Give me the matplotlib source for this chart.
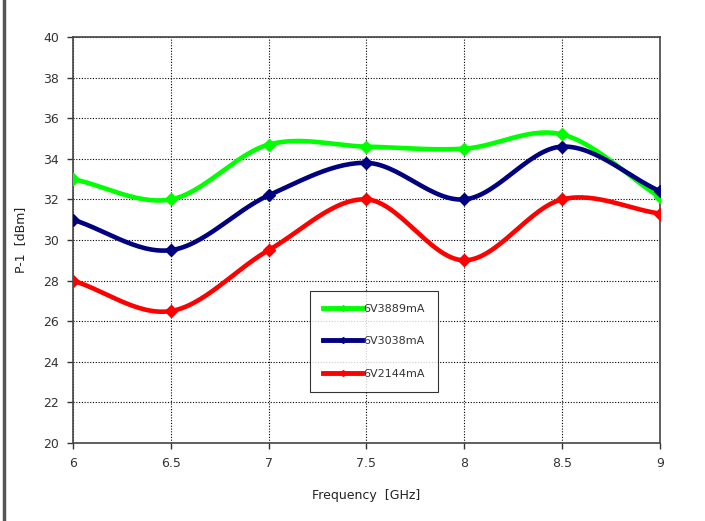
"""P-1 vs frequency chart, Excel-style smoothed lines."""
import matplotlib
matplotlib.use("Agg")
import matplotlib.pyplot as plt
from matplotlib.lines import Line2D
import numpy as np

freq_ghz = [6.0, 6.5, 7.0, 7.5, 8.0, 8.5, 9.0]
p1_3889 = [33.0, 32.0, 34.7, 34.6, 34.5, 35.2, 32.1]
p1_3038 = [31.0, 29.5, 32.2, 33.8, 32.0, 34.6, 32.4]
p1_2144 = [28.0, 26.5, 29.5, 32.0, 29.0, 32.0, 31.3]
series_labels = ["6V3889mA", "6V3038mA", "6V2144mA"]
series_colors = ["#00FF00", "#000080", "#FF0000"]


def smooth(x, y, n=30):
    # Catmull-Rom curve through the points, like Excel's smoothed line
    x = np.asarray(x, float)
    y = np.asarray(y, float)
    px = np.concatenate([[2 * x[0] - x[1]], x, [2 * x[-1] - x[-2]]])
    py = np.concatenate([[2 * y[0] - y[1]], y, [2 * y[-1] - y[-2]]])
    xs, ys = [], []
    t = np.linspace(0, 1, n, endpoint=False)
    for i in range(1, len(px) - 2):
        for p, out in ((px, xs), (py, ys)):
            p0, p1, p2, p3 = p[i - 1], p[i], p[i + 1], p[i + 2]
            out.extend(0.5 * ((2 * p1) + (-p0 + p2) * t
                              + (2 * p0 - 5 * p1 + 4 * p2 - p3) * t ** 2
                              + (-p0 + 3 * p1 - 3 * p2 + p3) * t ** 3))
    xs.append(x[-1])
    ys.append(y[-1])
    return np.array(xs), np.array(ys)


fig = plt.figure(figsize=(7.05, 5.21), dpi=100)
ax = fig.add_axes([0.1035, 0.1497, 0.8326, 0.7793])

handles = []
for vals, label, color in zip([p1_3889, p1_3038, p1_2144], series_labels, series_colors):
    sx, sy = smooth(freq_ghz, vals)
    ax.plot(sx, sy, color=color, linewidth=3.3, solid_capstyle="round", zorder=3)
    ax.plot(freq_ghz, vals, linestyle="none", marker="D", markersize=6,
            color=color, zorder=4)
    handles.append(Line2D([], [], color=color, linewidth=3.5, marker="D", markersize=3))

ax.set_xlim(6, 9)
ax.set_ylim(20, 40)
ax.set_xticks(freq_ghz)
ax.set_xticklabels(["6", "6.5", "7", "7.5", "8", "8.5", "9"])
ax.set_yticks(np.arange(20, 41, 2))
ax.tick_params(labelsize=9, colors="#333333", length=4, width=1, pad=6)
ax.grid(True, color="black", linestyle=(0, (1, 1.5)), linewidth=0.8)
for s in ax.spines.values():
    s.set_color("#444444")
    s.set_linewidth(1.2)

ax.set_xlabel("Frequency  [GHz]", fontsize=9, labelpad=14, color="#222222")
ax.set_ylabel("P-1  [dBm]", fontsize=9, labelpad=12, color="#222222")

leg = ax.legend(handles, series_labels, loc="upper left",
                bbox_to_anchor=(0.404, 0.375), fontsize=8, frameon=True,
                fancybox=False, edgecolor="black", labelspacing=2.0,
                handlelength=3.5, handletextpad=0.1, borderpad=1.2,
                borderaxespad=0)
leg.get_frame().set_linewidth(0.8)
for t in leg.get_texts():
    t.set_color("#333333")

fig.add_artist(Line2D([0.006, 0.006], [0.0, 1.0], color="#555555", linewidth=2.5))

fig.savefig("out.png", dpi=100)
